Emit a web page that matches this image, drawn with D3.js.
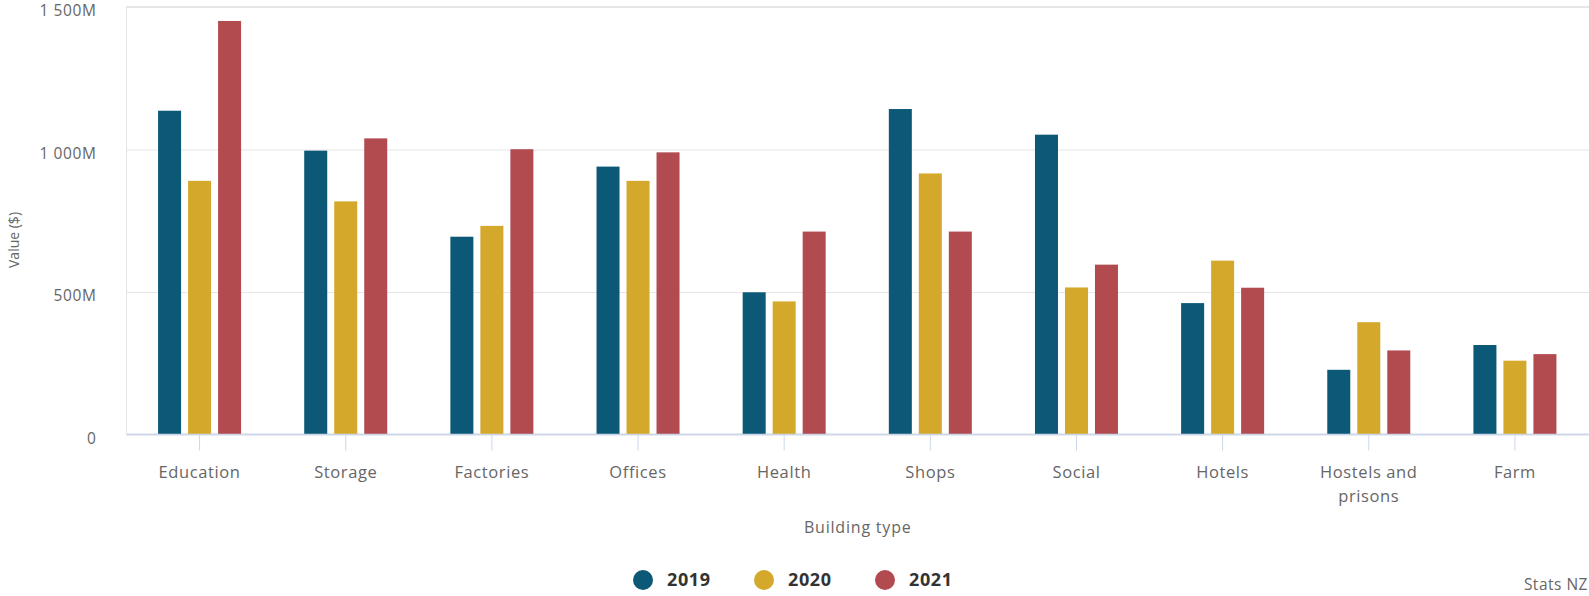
<!DOCTYPE html>
<html>
<head>
<meta charset="utf-8">
<script src="https://d3js.org/d3.v7.min.js"></script>
<style>
  body { margin: 0; background: #fff; }
  text { font-family: "Open Sans", sans-serif; }
</style>
</head>
<body>
<div id="chart"></div>
<script>
// data (values in $ million)
var categories = ["Education", "Storage", "Factories", "Offices", "Health", "Shops", "Social", "Hotels", "Hostels and prisons", "Farm"];
var years = ["2019", "2020", "2021"];
var v2019 = [1136, 996, 694, 940, 499, 1142, 1052, 461, 227, 314];
var v2020 = [890, 818, 732, 890, 467, 916, 516, 610, 394, 259];
var v2021 = [1451, 1039, 1001, 990, 712, 712, 596, 515, 295, 282];
var yTicks = [0, 500, 1000, 1500];
var colors = ["#0b5877", "#d4a92b", "#b14b50"];

var series = [v2019, v2020, v2021];
var rows = categories.map(function (c, i) {
  return { cat: c, vals: years.map(function (y, j) { return { year: y, v: series[j][i] }; }) };
});

var W = 1589, H = 596;
var plotL = 126.5, plotR = 1589, plotT = 7, plotB = 434.5;

var svg = d3.select("#chart").append("svg")
  .attr("width", W)
  .attr("height", H);

var x0 = d3.scaleBand().domain(categories).range([plotL, plotR - 1])
  .paddingInner(0.432).paddingOuter(0.216);
var x1 = d3.scaleBand().domain(years).range([0, x0.bandwidth()]).paddingInner(0.233);
var y = d3.scaleLinear().domain([0, 1500]).range([plotB, plotT]);
var color = d3.scaleOrdinal().domain(years).range(colors);

// plot border + grid
svg.append("rect")
  .attr("x", plotL).attr("y", plotT - 0.5)
  .attr("width", plotR - plotL + 5).attr("height", plotB - plotT)
  .attr("fill", "none").attr("stroke", "#e6e6e6");

var grid = svg.append("g")
  .attr("transform", "translate(" + plotL + ",0)")
  .call(d3.axisLeft(y).tickValues(yTicks).tickSize(-(plotR - plotL)).tickFormat(""));
grid.select(".domain").remove();
grid.selectAll("line").attr("stroke", "#e6e6e6");

// y labels
var fmt = function (d) { return d === 0 ? "0" : d3.format(",")(d).replace(",", " ") + "M"; };
var yAxis = svg.append("g")
  .attr("transform", "translate(" + (plotL - 27) + ",4)")
  .call(d3.axisLeft(y).tickValues(yTicks).tickSize(0).tickFormat(fmt));
yAxis.select(".domain").remove();
yAxis.selectAll("text")
  .attr("fill", "#666").attr("font-size", "15.5px").attr("letter-spacing", "0.6px")
  .style("font-family", "'Open Sans', sans-serif");

// bars
var groups = svg.append("g").selectAll("g")
  .data(rows).join("g")
  .attr("transform", function (d) { return "translate(" + x0(d.cat) + ",0)"; });
groups.selectAll("rect")
  .data(function (d) { return d.vals; }).join("rect")
  .attr("x", function (d) { return x1(d.year); })
  .attr("width", x1.bandwidth())
  .attr("y", function (d) { return y(d.v); })
  .attr("height", function (d) { return y(0) - y(d.v); })
  .attr("fill", function (d) { return color(d.year); });

// x axis
var xAxis = svg.append("g")
  .attr("transform", "translate(0," + plotB + ")")
  .call(d3.axisBottom(x0).tickSize(16).tickPadding(16));
xAxis.select(".domain").attr("stroke", "#ccd6eb").attr("stroke-width", 1.5)
  .attr("d", "M" + plotL + ",0H" + W);
xAxis.selectAll(".tick line").attr("stroke", "#ccd6eb");
xAxis.selectAll("text")
  .attr("fill", "#666").attr("font-size", "16.5px").attr("letter-spacing", "0.6px")
  .style("font-family", "'Open Sans', sans-serif")
  .each(function (d) {
    var t = d3.select(this);
    var words = d.split(" ");
    if (words.length < 3) return;
    t.text("");
    var lines = [words.slice(0, 2).join(" "), words.slice(2).join(" ")];
    lines.forEach(function (l, i) {
      t.append("tspan").attr("x", 0).attr("dy", i === 0 ? "0.71em" : "1.45em").text(l);
    });
  });

// axis titles
svg.append("text")
  .attr("transform", "translate(19," + 240 + ") rotate(-90)")
  .attr("text-anchor", "middle")
  .attr("fill", "#666").attr("font-size", "14px")
  .text("Value ($)");

svg.append("text")
  .attr("x", (plotL + plotR) / 2).attr("y", 533)
  .attr("text-anchor", "middle")
  .attr("fill", "#666").attr("font-size", "16px").attr("letter-spacing", "0.8px")
  .text("Building type");

// legend
var legend = svg.append("g").selectAll("g")
  .data(years).join("g")
  .attr("transform", function (d, i) { return "translate(" + (643 + i * 121) + ",580)"; });
legend.append("circle").attr("r", 10).attr("fill", function (d) { return color(d); });
legend.append("text")
  .attr("x", 24).attr("dy", "0.35em")
  .attr("fill", "#333").attr("font-size", "18px").attr("font-weight", "bold")
  .attr("letter-spacing", "0.6px")
  .text(function (d) { return d; });

// credit
svg.append("text")
  .attr("x", 1588).attr("y", 590)
  .attr("text-anchor", "end")
  .attr("fill", "#666").attr("font-size", "15.5px").attr("letter-spacing", "0.5px")
  .text("Stats NZ");
</script>
</body>
</html>
